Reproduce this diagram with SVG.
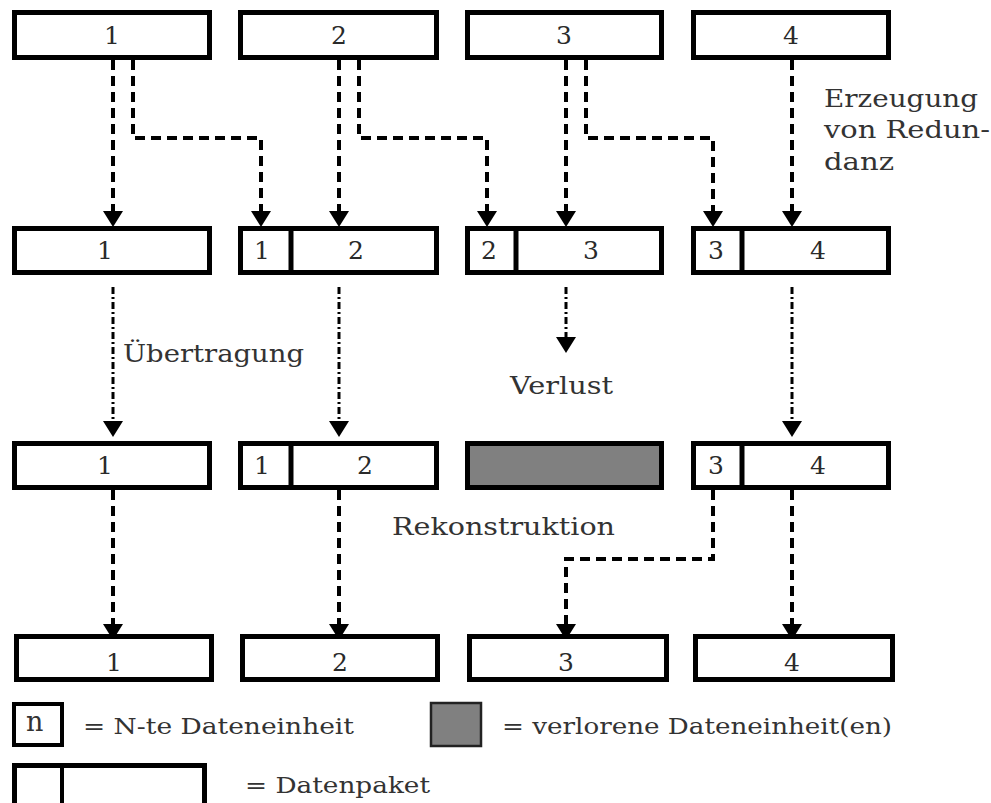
<svg xmlns="http://www.w3.org/2000/svg" width="991" height="803" viewBox="0 0 991 803">
<defs>
<marker id="ah" markerUnits="userSpaceOnUse" markerWidth="16" markerHeight="20" viewBox="0 0 16 20" refX="8" refY="10" orient="auto">
<path d="M0,0 L16,10 L0,20 z" fill="#000"/>
</marker>
<style>
.box{fill:#fff;stroke:#000;stroke-width:5}
.div{stroke:#000;stroke-width:5}
.lost{fill:#808080;stroke:#000;stroke-width:5}
.num{font-family:"DejaVu Serif","Liberation Serif",serif;font-size:25px;fill:#2a2a2a;text-anchor:middle}
.lbl{font-family:"DejaVu Serif","Liberation Serif",serif;font-size:24px;fill:#333}
.leg{font-family:"DejaVu Serif","Liberation Serif",serif;font-size:22px;fill:#333}
.dash{fill:none;stroke:#000;stroke-width:4;stroke-dasharray:10 6;marker-end:url(#ah)}
.dd{fill:none;stroke:#000;stroke-width:3;stroke-dasharray:7 3 2 3;marker-end:url(#ah)}
</style>
</defs>
<rect width="991" height="803" fill="#fff"/>

<g id="connectors">
<path class="dash" d="M113,60 V219"/>
<path class="dash" d="M133,60 V138 H261 V219"/>
<path class="dash" d="M339,60 V219"/>
<path class="dash" d="M359,60 V138 H487 V219"/>
<path class="dash" d="M566,60 V219"/>
<path class="dash" d="M586,60 V138 H713 V219"/>
<path class="dash" d="M792,60 V219"/>
<path class="dd" d="M113,287 V429"/>
<path class="dd" d="M339,287 V429"/>
<path class="dd" d="M566,287 V345"/>
<path class="dd" d="M792,287 V429"/>
<path class="dash" d="M113,490 V632"/>
<path class="dash" d="M339,490 V632"/>
<path class="dash" d="M713,490 V559 H566 V632"/>
<path class="dash" d="M792,490 V632"/>
</g>

<g id="src1"><rect class="box" x="14.5" y="12.5" width="195" height="45"/><text class="num" x="112" y="44">1</text></g>
<g id="src2"><rect class="box" x="240.5" y="12.5" width="196" height="45"/><text class="num" x="339" y="44">2</text></g>
<g id="src3"><rect class="box" x="467.5" y="12.5" width="194" height="45"/><text class="num" x="564" y="44">3</text></g>
<g id="src4"><rect class="box" x="693.5" y="12.5" width="195" height="45"/><text class="num" x="791" y="44">4</text></g>

<g id="red1"><rect class="box" x="14.5" y="228.5" width="195" height="44"/><text class="num" x="105" y="259">1</text></g>
<g id="red2"><rect class="box" x="240.5" y="228.5" width="196" height="44"/><line class="div" x1="291" y1="228" x2="291" y2="273"/><text class="num" x="262" y="259">1</text><text class="num" x="356" y="259">2</text></g>
<g id="red3"><rect class="box" x="467.5" y="228.5" width="194" height="44"/><line class="div" x1="516" y1="228" x2="516" y2="273"/><text class="num" x="489" y="259">2</text><text class="num" x="591" y="259">3</text></g>
<g id="red4"><rect class="box" x="693.5" y="228.5" width="195" height="44"/><line class="div" x1="742" y1="228" x2="742" y2="273"/><text class="num" x="716" y="259">3</text><text class="num" x="818" y="259">4</text></g>

<g id="rx1"><rect class="box" x="14.5" y="443.5" width="195" height="44"/><text class="num" x="105" y="474">1</text></g>
<g id="rx2"><rect class="box" x="240.5" y="443.5" width="196" height="44"/><line class="div" x1="291" y1="443" x2="291" y2="488"/><text class="num" x="262" y="474">1</text><text class="num" x="365" y="474">2</text></g>
<g id="rx3"><rect class="lost" x="467.5" y="443.5" width="194" height="44"/></g>
<g id="rx4"><rect class="box" x="693.5" y="443.5" width="195" height="44"/><line class="div" x1="742" y1="443" x2="742" y2="488"/><text class="num" x="716" y="474">3</text><text class="num" x="818" y="474">4</text></g>

<g id="out1"><rect class="box" x="16.5" y="636.5" width="195" height="43"/><text class="num" x="114" y="671">1</text></g>
<g id="out2"><rect class="box" x="242.5" y="636.5" width="195" height="43"/><text class="num" x="340" y="671">2</text></g>
<g id="out3"><rect class="box" x="469.5" y="636.5" width="197" height="43"/><text class="num" x="566" y="671">3</text></g>
<g id="out4"><rect class="box" x="695.5" y="636.5" width="197" height="43"/><text class="num" x="792" y="671">4</text></g>

<g id="labels">
<text class="lbl" x="824" y="107" textLength="154" lengthAdjust="spacingAndGlyphs">Erzeugung</text>
<text class="lbl" x="824" y="138" textLength="166" lengthAdjust="spacingAndGlyphs">von Redun-</text>
<text class="lbl" x="824" y="170" textLength="70" lengthAdjust="spacingAndGlyphs">danz</text>
<text class="lbl" x="123" y="362" textLength="181" lengthAdjust="spacingAndGlyphs">Übertragung</text>
<text class="lbl" x="510" y="394" textLength="103" lengthAdjust="spacingAndGlyphs">Verlust</text>
<text class="lbl" x="392" y="535" textLength="223" lengthAdjust="spacingAndGlyphs">Rekonstruktion</text>
</g>

<g id="legend">
<rect x="14" y="704" width="48" height="41" fill="#fff" stroke="#000" stroke-width="4"/>
<text class="leg" x="26" y="731" style="font-size:27px">n</text>
<text class="leg" x="83" y="734" textLength="271" lengthAdjust="spacingAndGlyphs">= N-te Dateneinheit</text>
<rect x="431" y="703" width="50" height="43" fill="#808080" stroke="#222" stroke-width="2.5"/>
<text class="leg" x="502" y="734" textLength="390" lengthAdjust="spacingAndGlyphs">= verlorene Dateneinheit(en)</text>
<rect x="14.5" y="765.5" width="190" height="50" fill="#fff" stroke="#000" stroke-width="5"/>
<line x1="62" y1="765" x2="62" y2="810" stroke="#000" stroke-width="4"/>
<text class="leg" x="245" y="793" textLength="185" lengthAdjust="spacingAndGlyphs">= Datenpaket</text>
</g>
</svg>
